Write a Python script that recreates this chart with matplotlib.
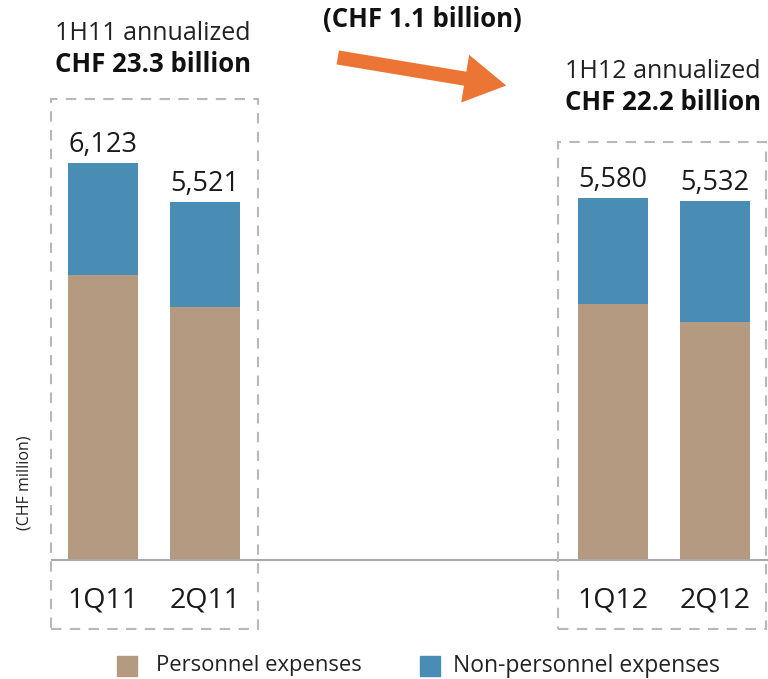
import matplotlib
matplotlib.use('Agg')
import matplotlib.pyplot as plt
from matplotlib.patches import Rectangle

plt.rcParams['font.family'] = ['Open Sans', 'DejaVu Sans']

# data (CHF million)
quarters = ['1Q11', '2Q11', '1Q12', '2Q12']
positions = [0, 1, 5, 6]
totals = [6123, 5521, 5580, 5532]
personnel = [4395, 3905, 3950, 3670]
non_personnel = [t - p for t, p in zip(totals, personnel)]
total_labels = ['6,123', '5,521', '5,580', '5,532']

PERSONNEL_COLOR = '#B59A82'
NON_PERSONNEL_COLOR = '#4A8DB4'
ARROW_COLOR = '#EC7434'
BOX_COLOR = '#B8B8B8'

W, H = 768, 679
fig = plt.figure(figsize=(W / 100, H / 100), dpi=100)


def fx(px):
    return px / W


def fy(py):
    # py measured from top of the picture
    return 1 - py / H


ax = fig.add_axes([fx(52), fy(560), fx(716), 460 / H])
ax.bar(positions, personnel, width=0.68, color=PERSONNEL_COLOR)
ax.bar(positions, non_personnel, width=0.68, bottom=personnel, color=NON_PERSONNEL_COLOR)
ax.set_xlim(-0.5, 6.52)
ax.set_ylim(0, 460 * 15.42)

for pos, tot, lab in zip(positions, totals, total_labels):
    ax.annotate(lab, (pos, tot), xytext=(0, 3), textcoords='offset points',
                ha='center', va='bottom', fontsize=19.5, color='#1a1a1a')

ax.set_xticks(positions)
ax.set_xticklabels(quarters, fontsize=20.5, color='#1a1a1a')
ax.tick_params(axis='x', length=0, pad=19)
ax.set_yticks([])
for s in ['top', 'right', 'left']:
    ax.spines[s].set_visible(False)
ax.spines['bottom'].set_color('#A8A8A8')
ax.spines['bottom'].set_linewidth(1.5)
ax.set_facecolor('none')

# dashed group boxes
for x0, y0, x1, y1 in [(51, 99, 258, 629), (558, 142, 766, 629)]:
    fig.patches.append(Rectangle((fx(x0), fy(y1)), fx(x1 - x0), (y1 - y0) / H,
                                 transform=fig.transFigure, fill=False,
                                 edgecolor=BOX_COLOR, linestyle=(0, (5, 4)),
                                 linewidth=1.5, zorder=0))

# headers
fig.text(fx(153), fy(34), '1H11 annualized', ha='center', va='center',
         fontsize=18, color='#222222')
fig.text(fx(153), fy(65), 'CHF 23.3 billion', ha='center', va='center',
         fontsize=18.5, fontweight='bold', color='#111111')
fig.text(fx(663), fy(72), '1H12 annualized', ha='center', va='center',
         fontsize=18, color='#222222')
fig.text(fx(663), fy(102), 'CHF 22.2 billion', ha='center', va='center',
         fontsize=18.5, fontweight='bold', color='#111111')
fig.text(fx(422), fy(20), '(CHF 1.1 billion)', ha='center', va='center',
         fontsize=18.5, fontweight='bold', color='#111111')

ax.annotate('', xy=(509, H - 86), xycoords='figure pixels',
            xytext=(335, H - 57), textcoords='figure pixels',
            arrowprops=dict(arrowstyle='simple,head_width=2.9,head_length=2.5,tail_width=0.85',
                            color=ARROW_COLOR, lw=0, mutation_scale=12))

fig.text(fx(25), fy(483), '(CHF million)', rotation=90, ha='center', va='center',
         fontsize=11.5, color='#222222')

# legend
fig.patches.append(Rectangle((fx(117), fy(676)), fx(20), 20 / H, transform=fig.transFigure,
                             color=PERSONNEL_COLOR))
fig.text(fx(156), fy(666), 'Personnel expenses', ha='left', va='center',
         fontsize=15.8, color='#222222')
fig.patches.append(Rectangle((fx(420), fy(676)), fx(20), 20 / H, transform=fig.transFigure,
                             color=NON_PERSONNEL_COLOR))
fig.text(fx(453), fy(666), 'Non-personnel expenses', ha='left', va='center',
         fontsize=16.5, color='#222222')

fig.savefig('out.png', dpi=100)
